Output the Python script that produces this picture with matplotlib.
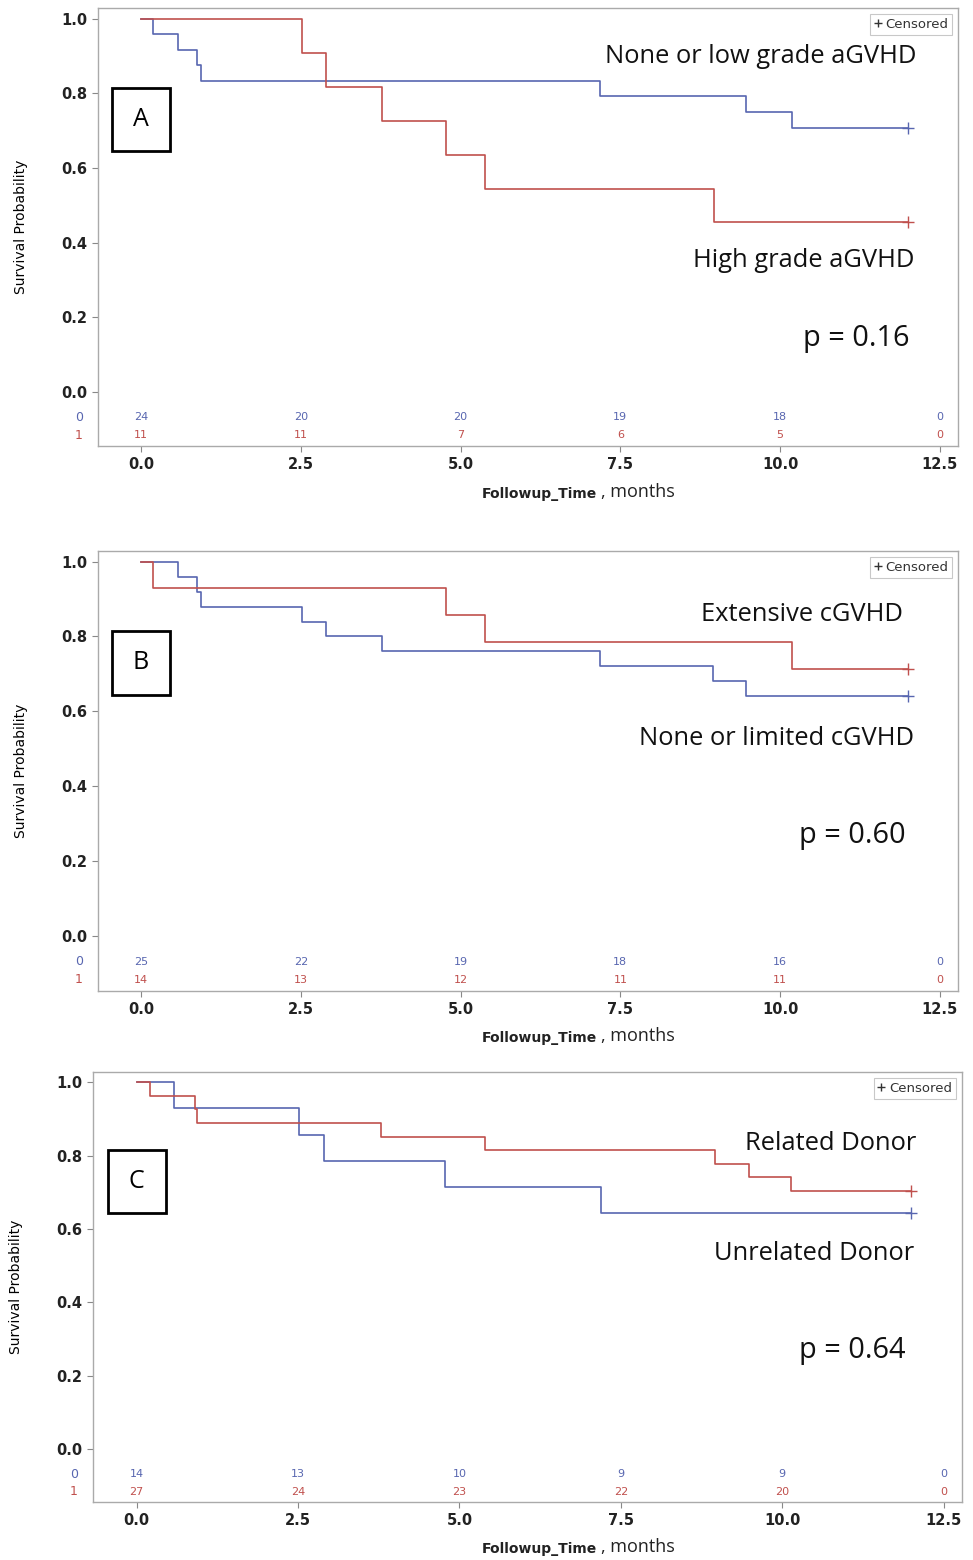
import matplotlib.pyplot as plt
from matplotlib.lines import Line2D
from matplotlib.patches import Rectangle

BLUE = '#5866b0'
RED = '#c0504d'

# panel A
a_low_t = [0, 0.18, 0.58, 0.88, 0.93, 7.18, 9.46, 10.19, 12.0]
a_low_s = [1.0, 0.958, 0.917, 0.875, 0.833, 0.792, 0.750, 0.708, 0.708]
a_high_t = [0, 2.52, 2.9, 3.77, 4.77, 5.38, 8.97, 12.0]
a_high_s = [1.0, 0.909, 0.818, 0.727, 0.636, 0.545, 0.455, 0.455]
a_risk0 = [24, 20, 20, 19, 18, 0]
a_risk1 = [11, 11, 7, 6, 5, 0]

# panel B
b_none_t = [0, 0.58, 0.88, 0.93, 2.52, 2.9, 3.77, 7.18, 8.95, 9.46, 12.0]
b_none_s = [1.0, 0.96, 0.92, 0.88, 0.84, 0.80, 0.76, 0.72, 0.68, 0.64, 0.64]
b_ext_t = [0, 0.18, 4.77, 5.38, 10.19, 12.0]
b_ext_s = [1.0, 0.929, 0.857, 0.786, 0.714, 0.714]
b_risk0 = [25, 22, 19, 18, 16, 0]
b_risk1 = [14, 13, 12, 11, 11, 0]

# panel C
c_unrel_t = [0, 0.58, 2.52, 2.9, 4.78, 7.19, 12.0]
c_unrel_s = [1.0, 0.929, 0.857, 0.786, 0.714, 0.643, 0.643]
c_rel_t = [0, 0.2, 0.9, 0.94, 3.79, 5.4, 8.96, 9.49, 10.13, 12.0]
c_rel_s = [1.0, 0.963, 0.926, 0.889, 0.852, 0.815, 0.778, 0.741, 0.704, 0.704]
c_risk0 = [14, 13, 10, 9, 9, 0]
c_risk1 = [27, 24, 23, 22, 20, 0]

risk_times = [0, 2.5, 5.0, 7.5, 10.0, 12.5]
xticks = [0, 2.5, 5.0, 7.5, 10.0, 12.5]
yticks = [0.0, 0.2, 0.4, 0.6, 0.8, 1.0]

BIG = ['Open Sans', 'DejaVu Sans']

fig = plt.figure(figsize=(9.73, 15.6), dpi=100)

panels = [
    dict(pos=[0.101, 0.714, 0.884, 0.281], letter='A',
         curves=[(a_low_t, a_low_s, BLUE), (a_high_t, a_high_s, RED)],
         r0=a_risk0, r1=a_risk1,
         notes=[('None or low grade aGVHD', 0.898, 12.13, 18.4),
                ('High grade aGVHD', 0.351, 12.1, 18.4),
                ('p = 0.16', 0.142, 12.03, 20.8)]),
    dict(pos=[0.101, 0.365, 0.884, 0.282], letter='B',
         curves=[(b_none_t, b_none_s, BLUE), (b_ext_t, b_ext_s, RED)],
         r0=b_risk0, r1=b_risk1,
         notes=[('Extensive cGVHD', 0.859, 11.92, 18.4),
                ('None or limited cGVHD', 0.527, 12.1, 18.4),
                ('p = 0.60', 0.269, 11.97, 20.8)]),
    dict(pos=[0.096, 0.037, 0.893, 0.276], letter='C',
         curves=[(c_unrel_t, c_unrel_s, BLUE), (c_rel_t, c_rel_s, RED)],
         r0=c_risk0, r1=c_risk1,
         notes=[('Related Donor', 0.832, 12.07, 18.4),
                ('Unrelated Donor', 0.534, 12.04, 18.4),
                ('p = 0.64', 0.268, 11.91, 20.8)]),
]

for p in panels:
    ax = fig.add_axes(p['pos'])
    for t, s, c in p['curves']:
        ax.plot(t, s, drawstyle='steps-post', color=c, lw=1.2)
        ax.plot(t[-1], s[-1], marker='+', color=c, ms=8, mew=1.0)

    ax.set_xlim(-0.67, 12.79)
    ax.set_ylim(-0.145, 1.029)
    ax.set_xticks(xticks)
    ax.set_xticklabels(['0.0', '2.5', '5.0', '7.5', '10.0', '12.5'])
    ax.set_yticks(yticks)
    ax.set_yticklabels(['%.1f' % v for v in yticks])
    ax.tick_params(length=4, width=0.8, color='#888888', labelsize=10.5,
                   labelcolor='#222222', pad=4)
    for lab in ax.get_xticklabels() + ax.get_yticklabels():
        lab.set_fontweight('bold')
    for sp in ax.spines.values():
        sp.set_color('#aaaaaa')
        sp.set_linewidth(1.0)

    # numbers at risk
    for x, n in zip(risk_times, p['r0']):
        ax.text(x, -0.068, str(n), color=BLUE, fontsize=8, ha='center', va='center')
    for x, n in zip(risk_times, p['r1']):
        ax.text(x, -0.116, str(n), color=RED, fontsize=8, ha='center', va='center')
    ax.text(-0.97, -0.068, '0', color=BLUE, fontsize=9, ha='center', va='center', clip_on=False)
    ax.text(-0.97, -0.116, '1', color=RED, fontsize=9, ha='center', va='center', clip_on=False)

    for txt, y, x, fs in p['notes']:
        ax.text(x, y, txt, fontsize=fs, family=BIG, color='#111111', ha='right', va='center')

    # panel letter box
    ax.add_patch(Rectangle((-0.45, 0.645), 0.9, 0.17, fill=False, ec='black', lw=2.0))
    ax.text(0.0, 0.73, p['letter'], fontsize=18, family=BIG, ha='center', va='center')

    h = Line2D([], [], color='#333333', marker='+', ls='none', ms=6)
    leg = ax.legend([h], ['Censored'], loc='upper right', fontsize=9.5,
                    handlelength=0.6, handletextpad=0.3, borderpad=0.3,
                    fancybox=False, edgecolor='#bbbbbb', borderaxespad=0.45)
    leg.get_frame().set_linewidth(0.8)
    for tx in leg.get_texts():
        tx.set_color('#333333')

    ax.set_ylabel('Survival Probability', fontsize=10,
                  family=['Liberation Sans Narrow', 'DejaVu Sans'], labelpad=24)
    ax.text(0.58, -0.108, 'Followup_Time', fontsize=10, fontweight='bold', color='#222222',
            ha='right', va='center', transform=ax.transAxes)
    ax.text(0.584, -0.104, ', months', fontsize=13, family=BIG, color='#222222',
            ha='left', va='center', transform=ax.transAxes)

fig.savefig('out.png', dpi=100)
